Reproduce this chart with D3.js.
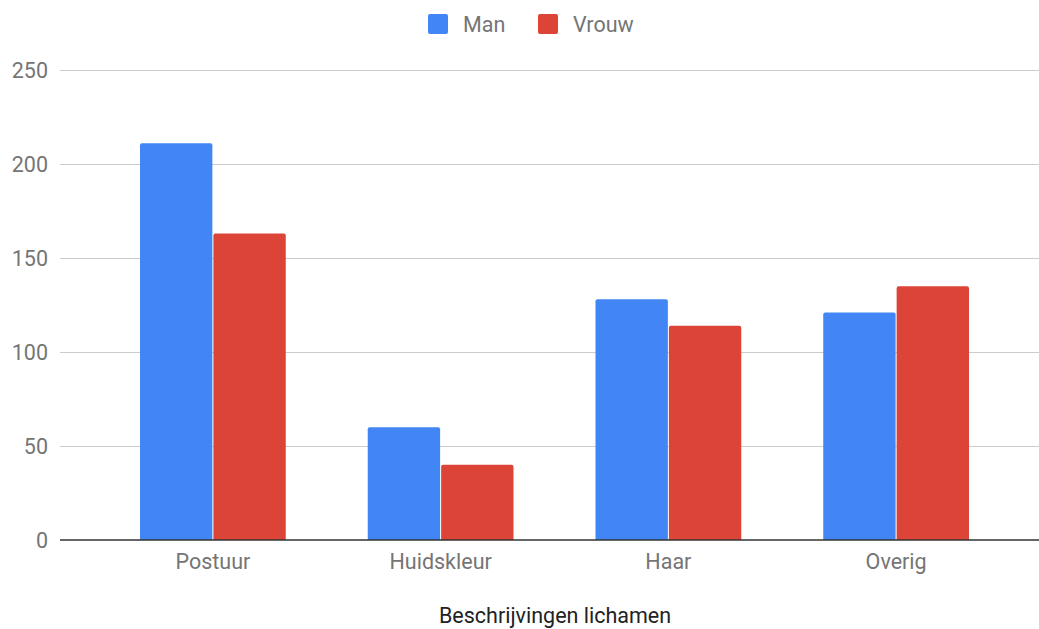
<!DOCTYPE html>
<html>
<head>
<meta charset="utf-8">
<script src="https://cdn.jsdelivr.net/npm/d3@7"></script>
<style>
  body { margin: 0; background: #fff; }
  text { font-family: Roboto, "Noto Sans", sans-serif; }
</style>
</head>
<body>
<svg id="chart"></svg>
<script>
// Data
const categories = ["Postuur", "Huidskleur", "Haar", "Overig"];
const series = ["Man", "Vrouw"];
const manValues = [211, 60, 128, 121];
const vrouwValues = [163, 40, 114, 135];
const yTicks = [0, 50, 100, 150, 200, 250];
const colors = ["#4285f4", "#db4437"];

const width = 1039, height = 629;
const svg = d3.select("#chart")
    .attr("width", width)
    .attr("height", height);

// Scales
const x = d3.scaleBand()
    .domain(categories)
    .range([99, 1010])
    .paddingInner(0.36)
    .paddingOuter(0.18);

const xInner = d3.scaleBand()
    .domain(series)
    .range([0, x.bandwidth()])
    .paddingInner(0.014);

const y = d3.scaleLinear()
    .domain([0, 250])
    .range([540, 70]);

// Gridlines
svg.append("g")
    .selectAll("line")
    .data(yTicks.filter(d => d > 0))
    .enter().append("line")
    .attr("x1", 60)
    .attr("x2", width)
    .attr("y1", d => y(d) + 0.5)
    .attr("y2", d => y(d) + 0.5)
    .attr("stroke", "#cccccc")
    .attr("stroke-width", 1);

// Y tick labels
svg.append("g")
    .selectAll("text")
    .data(yTicks)
    .enter().append("text")
    .attr("x", 48)
    .attr("y", d => y(d))
    .attr("dy", "0.35em")
    .attr("text-anchor", "end")
    .attr("font-size", 21.5)
    .attr("fill", "#757575")
    .text(d => d);

// Bars
const rows = categories.map((c, i) => ({ cat: c, values: [manValues[i], vrouwValues[i]] }));
const group = svg.append("g")
    .selectAll("g")
    .data(rows)
    .enter().append("g")
    .attr("transform", d => `translate(${x(d.cat)},0)`);

group.selectAll("path")
    .data(d => d.values.map((v, i) => ({ key: series[i], value: v, color: colors[i] })))
    .enter().append("path")
    .attr("fill", d => d.color)
    .attr("d", d => {
        const x0 = xInner(d.key), w = xInner.bandwidth();
        const top = y(d.value), bottom = y(0), r = 2;
        return `M${x0},${bottom}V${top + r}Q${x0},${top} ${x0 + r},${top}H${x0 + w - r}Q${x0 + w},${top} ${x0 + w},${top + r}V${bottom}Z`;
    });

// Baseline
svg.append("line")
    .attr("x1", 60)
    .attr("x2", width)
    .attr("y1", y(0))
    .attr("y2", y(0))
    .attr("stroke", "#333333")
    .attr("stroke-width", 1.5);

// Category labels
svg.append("g")
    .selectAll("text")
    .data(categories)
    .enter().append("text")
    .attr("x", d => x(d) + x.bandwidth() / 2)
    .attr("y", 569)
    .attr("text-anchor", "middle")
    .attr("font-size", 21.5)
    .attr("fill", "#757575")
    .text(d => d);

// Axis title
svg.append("text")
    .attr("x", 555)
    .attr("y", 623)
    .attr("text-anchor", "middle")
    .attr("font-size", 21.5)
    .attr("fill", "#222222")
    .text("Beschrijvingen lichamen");

// Legend
const legendPos = [428, 538];
const legend = svg.append("g")
    .selectAll("g")
    .data(series)
    .enter().append("g")
    .attr("transform", (d, i) => `translate(${legendPos[i]},14)`);

legend.append("rect")
    .attr("width", 20)
    .attr("height", 20)
    .attr("rx", 2)
    .attr("fill", (d, i) => colors[i]);

legend.append("text")
    .attr("x", 35)
    .attr("y", 10)
    .attr("dy", "0.35em")
    .attr("font-size", 21.5)
    .attr("fill", "#757575")
    .text(d => d);
</script>
</body>
</html>
